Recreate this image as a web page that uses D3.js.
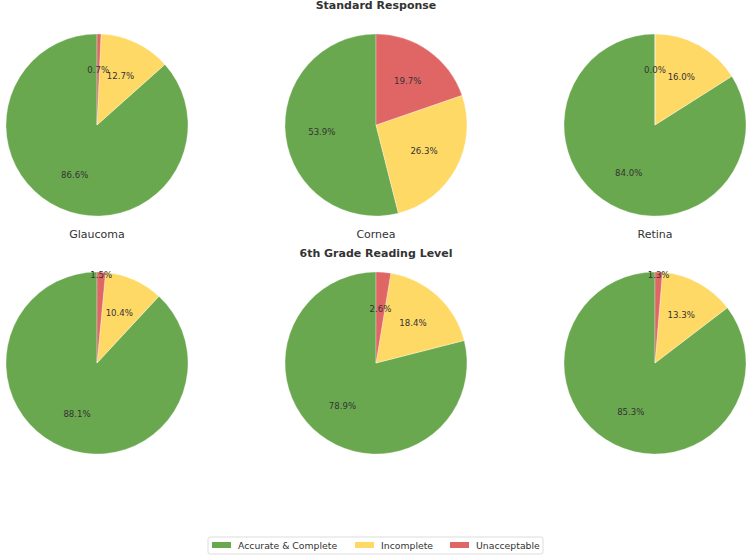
<!DOCTYPE html>
<html>
<head>
<meta charset="utf-8">
<script src="https://cdn.jsdelivr.net/npm/d3@7"></script>
<style>
  body { margin: 0; background: #fff; }
  svg text { font-family: "DejaVu Sans", sans-serif; fill: #333; }
</style>
</head>
<body>
<svg id="chart" width="749" height="556"></svg>
<script>
// categories and values
const categories = ['Accurate & Complete', 'Incomplete', 'Unacceptable'];
const colors = ['#6aa84f', '#ffd966', '#e06666'];
const sections = ['Glaucoma', 'Cornea', 'Retina'];
const rowTitles = ['Standard Response', '6th Grade Reading Level'];

const standardValues = [
  [86.6, 12.7, 0.7],
  [53.9, 26.3, 19.7],
  [84.0, 16.0, 0.0]
];
const gradeValues = [
  [88.1, 10.4, 1.5],
  [78.9, 18.4, 2.6],
  [85.3, 13.3, 1.3]
];
const rows = [standardValues, gradeValues];

const svg = d3.select('#chart');

const colX = d3.scalePoint().domain(sections).range([97, 655]);
const rowY = d3.scalePoint().domain(rowTitles).range([125, 363]);
const radius = 91;
const titleY = [9, 257];

// matplotlib style: start at 12 o'clock, go counter-clockwise
const pie = d3.pie().sort(null).value(d => d)
  .startAngle(0).endAngle(-2 * Math.PI);
const arc = d3.arc().innerRadius(0).outerRadius(radius);
const labelArc = d3.arc().innerRadius(radius * 0.6).outerRadius(radius * 0.6);
const edgeArc = d3.arc().innerRadius(radius * 0.97).outerRadius(radius * 0.97);

rowTitles.forEach((title, ri) => {
  const cy = rowY(title);
  svg.append('text')
    .attr('x', colX('Cornea'))
    .attr('y', titleY[ri])
    .attr('text-anchor', 'middle')
    .attr('font-size', 11)
    .attr('font-weight', 'bold')
    .text(title);

  sections.forEach((sec, ci) => {
    const g = svg.append('g')
      .attr('transform', `translate(${colX(sec)},${cy})`);
    const arcs = pie(rows[ri][ci]);
    g.selectAll('path')
      .data(arcs)
      .enter().append('path')
      .attr('d', arc)
      .attr('fill', (d, i) => colors[i])
      .attr('stroke', '#fff')
      .attr('stroke-width', 0.3);
    g.selectAll('text')
      .data(arcs)
      .enter().append('text')
      .attr('transform', d => {
        // small non-zero slices in the second row sit near the rim
        const a = (ri === 1 && d.data > 0 && d.data < 2) ? edgeArc : labelArc;
        return `translate(${a.centroid(d)})`;
      })
      .attr('text-anchor', 'middle')
      .attr('dy', '0.35em')
      .attr('font-size', 8.6)
      .text(d => d.data.toFixed(1) + '%');

    if (ri === 0) {
      svg.append('text')
        .attr('x', colX(sec))
        .attr('y', cy + radius + 22)
        .attr('text-anchor', 'middle')
        .attr('font-size', 11)
        .text(sec);
    }
  });
});

// legend
const legend = svg.append('g').attr('transform', 'translate(208,537)');
legend.append('rect')
  .attr('width', 335).attr('height', 17).attr('rx', 2)
  .attr('fill', '#fff').attr('stroke', '#ddd');
const legendX = [4, 147, 242];
categories.forEach((c, i) => {
  legend.append('rect')
    .attr('x', legendX[i]).attr('y', 5)
    .attr('width', 19).attr('height', 6)
    .attr('fill', colors[i]);
  legend.append('text')
    .attr('x', legendX[i] + 26).attr('y', 8.5)
    .attr('dy', '0.35em')
    .attr('font-size', 9.3)
    .text(c);
});
</script>
</body>
</html>
